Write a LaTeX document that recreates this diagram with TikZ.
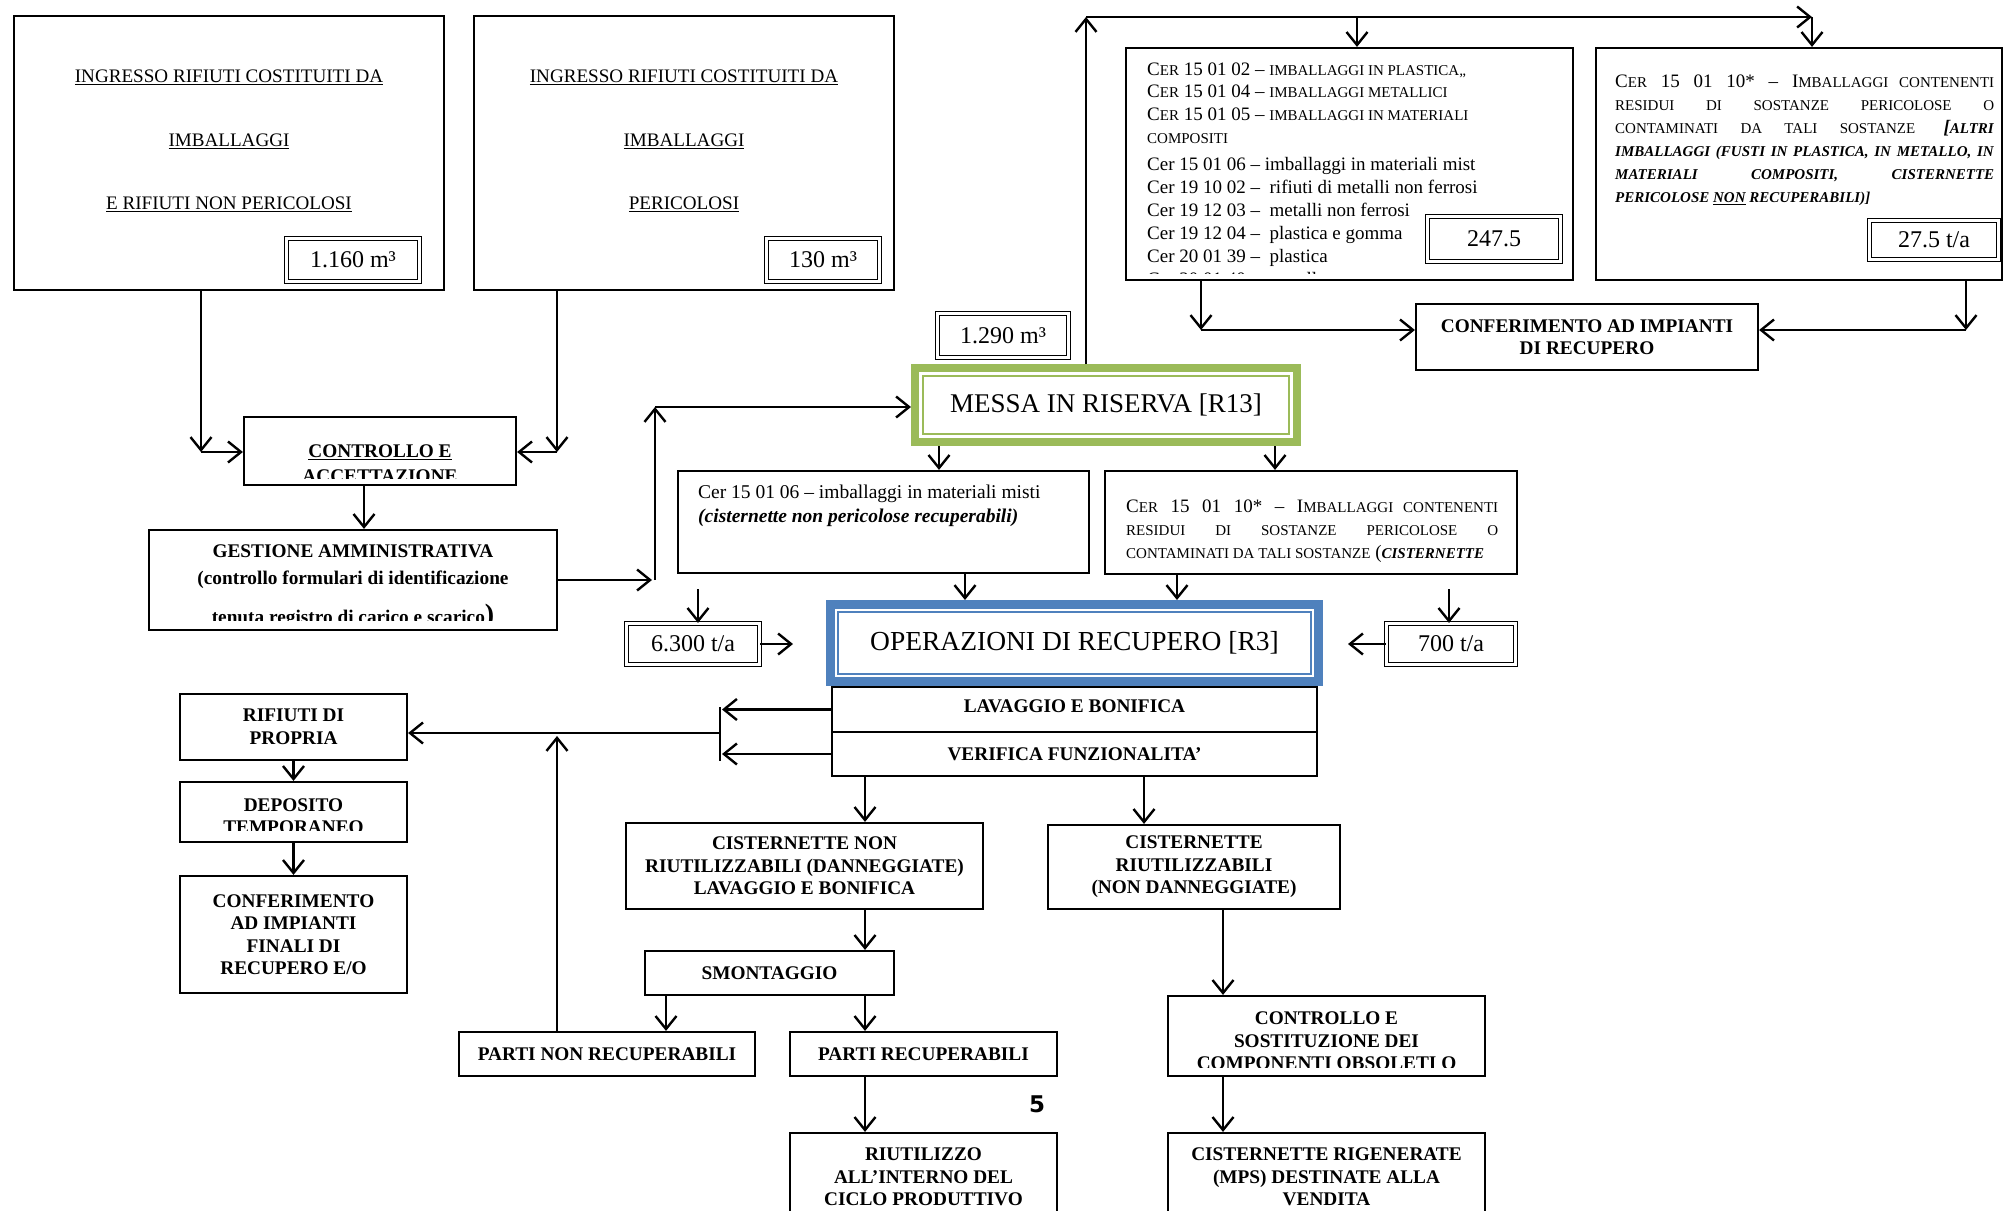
\documentclass[tikz,border=0pt]{standalone}
\usepackage{fontspec}
\setmainfont{Liberation Serif}
\newfontfamily\pagefont{DejaVu Sans}
\usetikzlibrary{arrows.meta}
\definecolor{rgreen}{HTML}{9BBB59}
\definecolor{opblue}{HTML}{4F81BD}
\newcommand\smc[1]{{\fontsize{15}{15}\selectfont #1}}
\tikzset{
  box/.style={draw, line width=2.2pt, inner sep=0pt, align=center},
  bold/.style={font=\bfseries\fontsize{19.3}{22.5}\selectfont, align=center, inner sep=0pt},
  ingtxt/.style={font=\fontsize{19.1}{63.5}\selectfont, align=center, inner sep=0pt},
  cer/.style={font=\fontsize{19}{23}\selectfont, inner sep=0pt},
  valbox/.style={draw, double, double distance=2.4pt, line width=1.2pt, inner sep=0pt,
    font=\fontsize{24}{28}\selectfont},
  flow/.style={->, line width=2.4pt},
  >={Straight Barb[length=13pt,width=21pt]}
}
\begin{document}
\begin{tikzpicture}[x=1pt,y=-1pt]
\useasboundingbox (0,0) rectangle (2004,1210);

% ingressi
\node[box, minimum width=430, minimum height=274] (inA) at (229,153) {};
\node[ingtxt] (inAt) at (229,141) {\underline{INGRESSO RIFIUTI COSTITUITI DA}\\\underline{IMBALLAGGI}\\\underline{E RIFIUTI NON PERICOLOSI}};
\node[valbox, minimum width=133, minimum height=43] (valA) at (353,260) {1.160 m³};
\node[box, minimum width=420, minimum height=274] (inB) at (684,153) {};
\node[ingtxt] (inBt) at (684,141) {\underline{INGRESSO RIFIUTI COSTITUITI DA}\\\underline{IMBALLAGGI}\\\underline{PERICOLOSI}};
\node[valbox, minimum width=113, minimum height=43] (valB) at (823,260) {130 m³};

% controllo e gestione
\node[box, minimum width=272, minimum height=68] (ctrl) at (380,451) {};
\begin{scope}
\clip ([shift={(4pt,8pt)}]ctrl.south west) rectangle ([shift={(-4pt,-4pt)}]ctrl.north east);
\node[bold, font=\bfseries\fontsize{19.3}{25}\selectfont] (ctrlt) at (380,465) {\underline{CONTROLLO E}\\\underline{ACCETTAZIONE}};
\end{scope}
\node[box, minimum width=408, minimum height=100] (gest) at (353,580) {};
\begin{scope}
\clip ([shift={(4pt,11pt)}]gest.south west) rectangle ([shift={(-4pt,-4pt)}]gest.north east);
\node[bold, font=\bfseries\fontsize{19.3}{27}\selectfont, anchor=north] (gestt) at (353,545) {GESTIONE AMMINISTRATIVA\\(controllo formulari di identificazione\\[12pt]tenuta registro di carico e scarico{\fontsize{28}{28}\selectfont)}};
\end{scope}

% messa in riserva
\node[draw=rgreen, line width=8pt, minimum width=382, minimum height=74, inner sep=0pt,
  font=\fontsize{27}{30}\selectfont] (messa) at (1106,405) {MESSA IN RISERVA [R13]};
\draw[rgreen, line width=2pt] ([shift={(12pt,-12pt)}]messa.north west) rectangle ([shift={(-12pt,12pt)}]messa.south east);
\node[valbox, minimum width=131, minimum height=44] (valM) at (1003,335.5) {1.290 m³};

% codici CER in alto
\node[box, minimum width=447, minimum height=232] (cerList) at (1349.5,164) {};
\begin{scope}
\clip (cerList.north west) rectangle ([yshift=8pt]cerList.south east);
\foreach \yb/\t [count=\i] in {
  75/{C\smc{ER} 15 01 02 – \smc{IMBALLAGGI IN PLASTICA,,}},
  97/{C\smc{ER} 15 01 04 – \smc{IMBALLAGGI METALLICI}},
  120/{C\smc{ER} 15 01 05 – \smc{IMBALLAGGI IN MATERIALI}},
  143/{\smc{COMPOSITI}},
  170/{Cer 15 01 06 – imballaggi in materiali mist},
  193/{Cer 19 10 02 – \ rifiuti di metalli non ferrosi},
  216/{Cer 19 12 03 – \ metalli non ferrosi},
  239/{Cer 19 12 04 – \ plastica e gomma},
  262/{Cer 20 01 39 – \ plastica},
  285/{Cer 20 01 40 – \ metallo}}
  \node[cer, anchor=base west] (cl\i) at (1147,\yb) {\t};
\end{scope}
\node[valbox, minimum width=133, minimum height=45, fill=white] (valL) at (1494,239) {247.5};

\node[box, minimum width=406, minimum height=232] (cerPer) at (1799,164) {};
\node[cer, text width=379, align=justify, anchor=north west] (cerPert) at (1615,75)
  {C\smc{ER} 15 01 10* – I\smc{MBALLAGGI CONTENENTI}\linebreak
   \smc{RESIDUI DI SOSTANZE PERICOLOSE O}\linebreak
   \smc{CONTAMINATI DA TALI SOSTANZE} \textbf{\textit{[\smc{ALTRI}}}\linebreak
   \textbf{\textit{\smc{IMBALLAGGI (FUSTI IN PLASTICA, IN METALLO, IN}}}\linebreak
   \textbf{\textit{\smc{MATERIALI COMPOSITI, CISTERNETTE}}}\linebreak
   \textbf{\textit{\smc{PERICOLOSE \underline{NON} RECUPERABILI)]}}}};
\node[valbox, minimum width=129, minimum height=39] (valP) at (1934,240) {27.5 t/a};

\node[box, bold, minimum width=342, minimum height=66] (conf) at (1587,337) {CONFERIMENTO AD IMPIANTI\\DI RECUPERO};

% codici in ingresso al recupero
\node[box, minimum width=411, minimum height=102] (misti) at (883.5,522) {};
\node[cer, font=\fontsize{19.5}{24}\selectfont, align=left, anchor=north west] (mistit) at (698,485)
  {Cer 15 01 06 – imballaggi in materiali misti\\\textbf{\textit{(cisternette non pericolose recuperabili)}}};
\node[box, minimum width=412, minimum height=103] (cerMid) at (1311,522.5) {};
\node[cer, text width=372, align=justify, anchor=north west] (cerMidt) at (1126,500)
  {C\smc{ER} 15 01 10* – I\smc{MBALLAGGI CONTENENTI}\linebreak
   \smc{RESIDUI DI SOSTANZE PERICOLOSE O}\linebreak
   \smc{CONTAMINATI DA TALI SOSTANZE} (\textbf{\textit{\smc{CISTERNETTE}}}};
\node[valbox, minimum width=133, minimum height=41] (val6300) at (693,644) {6.300 t/a};
\node[valbox, minimum width=129, minimum height=41] (val700) at (1451,644) {700 t/a};

% operazioni di recupero
\node[box, bold, minimum width=485, minimum height=45] (lav) at (1074.5,709.5) {\raisebox{6pt}{LAVAGGIO E BONIFICA}};
\node[box, bold, minimum width=485, minimum height=44] (ver) at (1074.5,754) {VERIFICA FUNZIONALITA’};
\node[draw=opblue, fill=white, line width=9pt, minimum width=488, minimum height=77, inner sep=0pt,
  font=\fontsize{27.5}{30}\selectfont] (oper) at (1074.5,643) {OPERAZIONI DI RECUPERO [R3]};
\draw[opblue, line width=2pt] ([shift={(12pt,-12pt)}]oper.north west) rectangle ([shift={(-12pt,12pt)}]oper.south east);

% rifiuti di propria produzione
\node[box, bold, minimum width=227, minimum height=66] (prop) at (293.5,727) {RIFIUTI DI\\PROPRIA};
\node[box, minimum width=227, minimum height=60] (depo) at (293.5,812) {};
\begin{scope}
\clip ([shift={(4pt,13pt)}]depo.south west) rectangle (depo.north east);
\node[bold, font=\bfseries\fontsize{19.3}{22}\selectfont] (depot) at (293.5,816) {DEPOSITO\\TEMPORANEO};
\end{scope}
\node[box, bold, minimum width=227, minimum height=117] (finali) at (293.5,934.5) {CONFERIMENTO\\AD IMPIANTI\\FINALI DI\\RECUPERO E/O};

% cisternette
\node[box, bold, minimum width=357, minimum height=86] (nonRiut) at (804.5,866) {CISTERNETTE NON\\RIUTILIZZABILI (DANNEGGIATE)\\LAVAGGIO E BONIFICA};
\node[box, bold, minimum width=292, minimum height=84] (riut) at (1194,867) {CISTERNETTE\\RIUTILIZZABILI\\(NON DANNEGGIATE)};
\node[box, bold, minimum width=249, minimum height=44] (smont) at (769.5,973) {SMONTAGGIO};
\node[box, bold, minimum width=296, minimum height=44] (pnr) at (607,1054) {PARTI NON RECUPERABILI};
\node[box, bold, minimum width=267, minimum height=44] (pr) at (923.5,1054) {PARTI RECUPERABILI};
\node[box, bold, minimum width=267, minimum height=88] (riutilizzo) at (923.5,1177) {RIUTILIZZO\\ALL’INTERNO DEL\\CICLO PRODUTTIVO};
\node[box, minimum width=317, minimum height=80] (ctrlSost) at (1326.5,1036) {};
\begin{scope}
\clip ([shift={(4pt,10pt)}]ctrlSost.south west) rectangle (ctrlSost.north east);
\node[bold] (ctrlSostt) at (1326.5,1041) {CONTROLLO E\\SOSTITUZIONE DEI\\COMPONENTI OBSOLETI O};
\end{scope}
\node[box, bold, minimum width=317, minimum height=88] (rigen) at (1326.5,1177) {CISTERNETTE RIGENERATE\\(MPS) DESTINATE ALLA\\VENDITA};
\node[font=\pagefont\bfseries\fontsize{23}{23}\selectfont, inner sep=0pt] (pnum) at (1037,1104) {5};

% frecce in alto
\coordinate (jA) at (201,452);
\coordinate (jB) at (557,452);
\draw[flow] (inA.south -| jA) -- (jA);
\draw[flow] (jA) -- (jA -| ctrl.west);
\draw[flow] (inB.south -| jB) -- (jB);
\draw[flow] (jB) -- (jB -| ctrl.east);
\draw[flow] (364,0 |- ctrl.south) -- (364,0 |- gest.north);
\coordinate (jG) at (652,0);
\coordinate (jM) at (655,407);
\draw[flow] (gest.east) -- (gest.east -| jG);
\draw[flow] (gest.east -| jM) -- (jM);
\draw[flow] (jM) -- (jM -| messa.west);
\coordinate (t1) at (1086,17);
\coordinate (t2) at (1812,17);
\coordinate (t3) at (1357,17);
\draw[flow] (messa.north -| t1) -- (t1);
\draw[flow] (t1) -- (t2);
\draw[flow] (t2) -- (t2 |- cerPer.north);
\draw[flow] (t3) -- (t3 |- cerList.north);
\coordinate (jL) at (1201,330);
\coordinate (jP) at (1966,330);
\draw[flow] (cerList.south -| jL) -- (jL);
\draw[flow] (jL) -- (jL -| conf.west);
\draw[flow] (cerPer.south -| jP) -- (jP);
\draw[flow] (jP) -- (jP -| conf.east);

% frecce al centro
\draw[flow] (939,0 |- messa.south) -- (939,0 |- misti.north);
\draw[flow] (1275,0 |- messa.south) -- (1275,0 |- cerMid.north);
\coordinate (s6) at (698,589);
\coordinate (s7) at (1449,589);
\draw[flow] (s6) -- (s6 |- val6300.north);
\draw[flow] (s7) -- (s7 |- val700.north);
\draw[flow] (965,0 |- misti.south) -- (965,0 |- oper.north);
\draw[flow] (1177,0 |- cerMid.south) -- (1177,0 |- oper.north);
\coordinate (e6) at (793,644);
\coordinate (e7) at (1348,644);
\draw[flow] (val6300.east) -- (e6);
\draw[flow] (val700.west) -- (e7);

% frecce in basso
\coordinate (b1) at (722,0);
\draw[flow] (lav.west) -- (lav.west -| b1);
\draw[flow] (ver.west) -- (ver.west -| b1);
\coordinate (v1) at (720,707);
\coordinate (v2) at (720,761);
\coordinate (vm) at (720,733);
\draw[line width=2.4pt] (v1) -- (v2);
\draw[flow] (vm) -- (vm -| prop.east);
\coordinate (vu) at (557,736);
\draw[flow] (vu |- pnr.north) -- (vu);
\draw[flow] (prop) -- (depo);
\draw[flow] (depo) -- (finali);
\draw[flow] (865,0 |- ver.south) -- (865,0 |- nonRiut.north);
\draw[flow] (1144,0 |- ver.south) -- (1144,0 |- riut.north);
\draw[flow] (865,0 |- nonRiut.south) -- (865,0 |- smont.north);
\draw[flow] (666,0 |- smont.south) -- (666,0 |- pnr.north);
\draw[flow] (865,0 |- smont.south) -- (865,0 |- pr.north);
\draw[flow] (865,0 |- pr.south) -- (865,0 |- riutilizzo.north);
\draw[flow] (1223,0 |- riut.south) -- (1223,0 |- ctrlSost.north);
\draw[flow] (1223,0 |- ctrlSost.south) -- (1223,0 |- rigen.north);
\end{tikzpicture}
\end{document}
